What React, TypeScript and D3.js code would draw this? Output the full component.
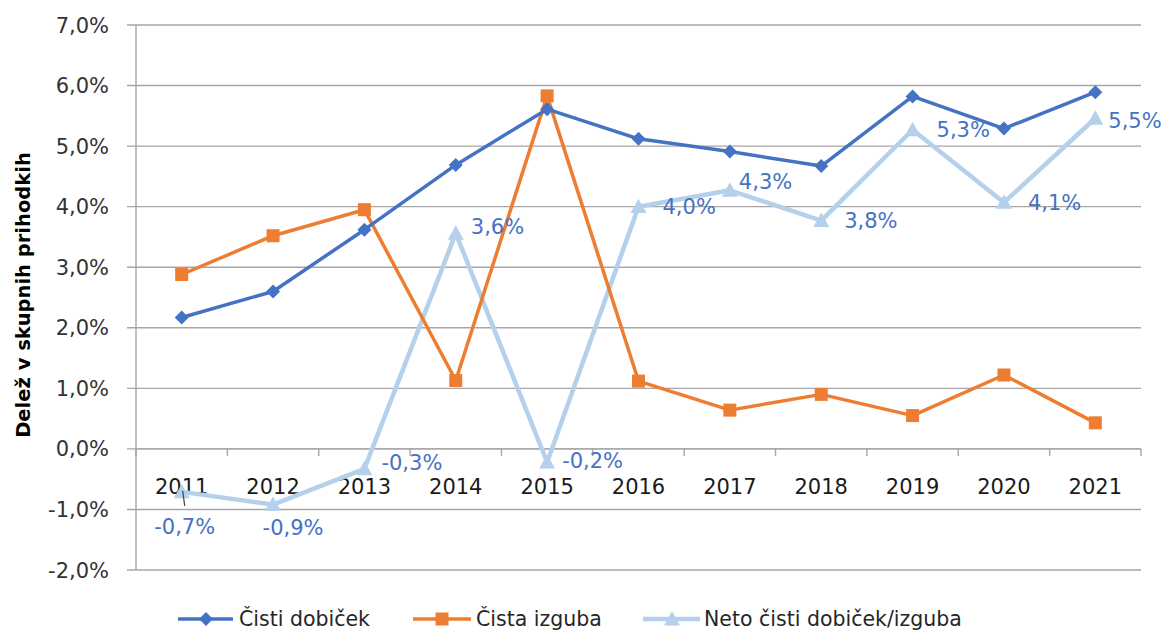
import React from "react";
import * as d3 from "d3";

const years = ["2011","2012","2013","2014","2015","2016","2017","2018","2019","2020","2021"];
const cistiDobicek = [2.17, 2.60, 3.62, 4.69, 5.61, 5.12, 4.91, 4.67, 5.82, 5.29, 5.89];
const cistaIzguba = [2.88, 3.52, 3.95, 1.13, 5.83, 1.12, 0.64, 0.90, 0.55, 1.22, 0.43];
const netoDobicek = [-0.71, -0.92, -0.33, 3.56, -0.22, 4.00, 4.27, 3.77, 5.27, 4.07, 5.46];
const yTicks = [-2, -1, 0, 1, 2, 3, 4, 5, 6, 7];
const seriesNames = ["Čisti dobiček", "Čista izguba", "Neto čisti dobiček/izguba"];

// label placement (anchor, dx, dy) relative to the point — manual Excel placement
const labelPlacement: [string, number, number][] = [
  ["middle", 3, 35], ["middle", 20, 23], ["start", 17, -6], ["start", 15, -7],
  ["start", 15, -2], ["start", 24, 0], ["start", 9, -9], ["start", 23, 0],
  ["start", 24, 0], ["start", 24, 0], ["start", 13, 2],
];

const W = 1166, H = 632;
const L = 136, R = 1141, T = 25, B = 570;
const BLUE = "#4472C4", ORANGE = "#ED7D31", LIGHT = "#B4D0EB";
const FONT = "'DejaVu Sans', sans-serif";
const fmt = (v: number) => d3.format(".1f")(v).replace("\u2212", "-").replace(".", ",") + "%";

export default function App() {
  const x = d3.scaleBand<string>().domain(years).range([L, R]);
  const y = d3.scaleLinear().domain([-2, 7]).range([B, T]);
  const cx = (i: number) => (x(years[i]) as number) + x.bandwidth() / 2;
  const line = d3.line<number>().x((_, i) => cx(i)).y((d) => y(d));

  const diamond = (px: number, py: number, s = 7) =>
    `M${px},${py - s}L${px + s},${py}L${px},${py + s}L${px - s},${py}Z`;
  const tri = (px: number, py: number, s = 8) =>
    `M${px},${py - s}L${px + s},${py + s * 0.8}L${px - s},${py + s * 0.8}Z`;

  const boundaries = years.map((yr) => x(yr) as number).concat([R]);
  const LY = 619;

  return (
    <svg width={W} height={H} style={{ position: "absolute", left: 0, top: 0, background: "#fff" }}>
      {/* gridlines */}
      {yTicks.map((t) => (
        <line key={t} x1={L - 9} x2={R} y1={y(t)} y2={y(t)} stroke="#A6A6A6" strokeWidth={1.4} />
      ))}
      {/* y axis line */}
      <line x1={L} x2={L} y1={T} y2={B} stroke="#A6A6A6" strokeWidth={1.4} />
      {/* x axis at 0 with ticks */}
      <line x1={L} x2={R} y1={y(0)} y2={y(0)} stroke="#A6A6A6" strokeWidth={1.4} />
      {boundaries.map((bx, i) => (
        <line key={i} x1={bx} x2={bx} y1={y(0)} y2={y(0) + 7} stroke="#A6A6A6" strokeWidth={1.4} />
      ))}
      {/* y tick labels */}
      {yTicks.map((t) => (
        <text key={t} x={109} y={y(t)} dy="0.36em" textAnchor="end" fontFamily={FONT} fontSize={21} fill="#333">
          {fmt(t)}
        </text>
      ))}
      {/* y axis title */}
      <text transform={`translate(23,295) rotate(-90)`} textAnchor="middle" dy="0.36em" fontFamily={FONT} fontWeight="bold" fontSize={19.5} fill="#000">
        Delež v skupnih prihodkih
      </text>
      {/* category labels */}
      {years.map((yr, i) => (
        <text key={yr} x={cx(i)} y={486} dy="0.36em" textAnchor="middle" fontFamily={FONT} fontSize={21} fill="#1a1a1a">
          {yr}
        </text>
      ))}

      {/* series lines */}
      <path d={line(netoDobicek) as string} fill="none" stroke={LIGHT} strokeWidth={4.5} strokeLinejoin="round" />
      <path d={line(cistaIzguba) as string} fill="none" stroke={ORANGE} strokeWidth={3.5} strokeLinejoin="round" />
      <path d={line(cistiDobicek) as string} fill="none" stroke={BLUE} strokeWidth={3.5} strokeLinejoin="round" />

      {/* markers */}
      {netoDobicek.map((v, i) => (
        <path key={"t" + i} d={tri(cx(i), y(v))} fill={LIGHT} />
      ))}
      {cistaIzguba.map((v, i) => (
        <rect key={"s" + i} x={cx(i) - 6.5} y={y(v) - 6.5} width={13} height={13} fill={ORANGE} />
      ))}
      {cistiDobicek.map((v, i) => (
        <path key={"d" + i} d={diamond(cx(i), y(v))} fill={BLUE} />
      ))}

      {/* leader line for 2011 label */}
      <line x1={cx(0) + 1} y1={y(netoDobicek[0]) - 1} x2={cx(0) + 3} y2={y(netoDobicek[0]) + 14} stroke="#404040" strokeWidth={1.2} />

      {/* data labels */}
      {netoDobicek.map((v, i) => {
        const [anchor, dx, dy] = labelPlacement[i];
        return (
          <text key={"l" + i} x={cx(i) + dx} y={y(v) + dy} dy="0.36em" textAnchor={anchor as any} fontFamily={FONT} fontSize={21} fill={BLUE}>
            {fmt(v)}
          </text>
        );
      })}

      {/* legend */}
      <g fontFamily={FONT} fontSize={20.5} fill="#262626">
        <line x1={178} x2={233} y1={LY} y2={LY} stroke={BLUE} strokeWidth={3.5} />
        <path d={diamond(206, LY)} fill={BLUE} />
        <text x={239} y={LY} dy="0.36em">{seriesNames[0]}</text>

        <line x1={413} x2={471} y1={LY} y2={LY} stroke={ORANGE} strokeWidth={3.5} />
        <rect x={442 - 6.5} y={LY - 6.5} width={13} height={13} fill={ORANGE} />
        <text x={476} y={LY} dy="0.36em">{seriesNames[1]}</text>

        <line x1={643} x2={700} y1={LY} y2={LY} stroke={LIGHT} strokeWidth={4.5} />
        <path d={tri(672, LY)} fill={LIGHT} />
        <text x={704} y={LY} dy="0.36em">{seriesNames[2]}</text>
      </g>
    </svg>
  );
}
